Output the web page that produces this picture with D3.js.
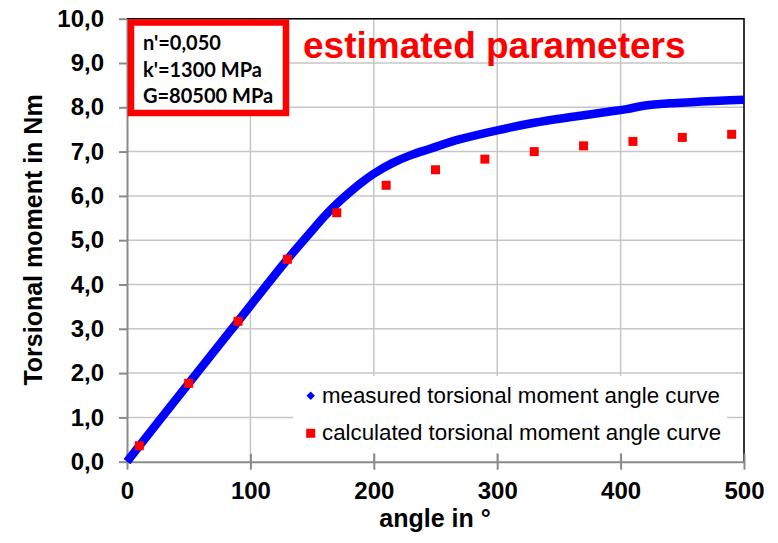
<!DOCTYPE html>
<html>
<head>
<meta charset="utf-8">
<script src="https://cdn.jsdelivr.net/npm/d3@7"></script>
<style>
    body { margin: 0; background: #fff; }
    svg { display: block; font-family: "Liberation Sans", Arial, sans-serif; }
    .grid line { stroke: #c6c6c6; stroke-width: 1.5; }
    .axis path, .axis line { stroke: #8a8a8a; stroke-width: 2; }
    .axis text { font-size: 24px; font-weight: bold; fill: #000; }
    .title { font-size: 25px; font-weight: bold; }
    .legend-text { font-size: 22.3px; }
</style>
</head>
<body>
<svg width="778" height="543"></svg>
<script>
// Measured curve (angle in deg, moment in Nm)
var measAngle  = [0, 50, 90, 130, 150, 160, 170, 180, 190, 200, 215, 230, 245, 270, 300, 330, 360, 390, 405, 420, 440, 460, 480, 500];
var measMoment = [0, 1.77, 3.17, 4.57, 5.22, 5.54, 5.82, 6.07, 6.30, 6.50, 6.74, 6.92, 7.06, 7.28, 7.48, 7.65, 7.78, 7.90, 7.96, 8.04, 8.09, 8.12, 8.15, 8.17];

// Calculated points
var calcAngle  = [10, 50, 90, 130, 170, 210, 250, 290, 330, 370, 410, 450, 490];
var calcMoment = [0.36, 1.77, 3.17, 4.57, 5.62, 6.24, 6.59, 6.83, 7.00, 7.13, 7.23, 7.32, 7.39];

var xTicks = [0, 100, 200, 300, 400, 500];
var yTicks = [0, 1, 2, 3, 4, 5, 6, 7, 8, 9, 10];

var paramLines = ["n'=0,050", "k'=1300 MPa", "G=80500 MPa"];
var legendLabels = ["measured torsional moment angle curve", "calculated torsional moment angle curve"];

var svg = d3.select("svg");
var plotL = 127, plotR = 744, plotT = 18.7, plotB = 461.7;

var x = d3.scaleLinear().domain([0, 500]).range([plotL, plotR]);
var y = d3.scaleLinear().domain([0, 10]).range([plotB, plotT]);
var fmt = function (d) { return d.toFixed(1).replace(".", ","); };

// Gridlines
var grid = svg.append("g").attr("class", "grid");
grid.selectAll(".gy").data(yTicks.slice(1)).enter().append("line")
    .attr("x1", plotL).attr("x2", plotR)
    .attr("y1", d => y(d)).attr("y2", d => y(d));
grid.selectAll(".gx").data(xTicks.slice(1)).enter().append("line")
    .attr("x1", d => x(d)).attr("x2", d => x(d))
    .attr("y1", plotT).attr("y2", plotB);

// Top and right border
svg.append("path")
    .attr("d", "M" + plotL + "," + plotT + "H" + plotR + "V" + plotB)
    .attr("fill", "none").attr("stroke", "#000").attr("stroke-width", 1.5);

// Axes
svg.append("g").attr("class", "axis")
    .attr("transform", "translate(0," + plotB + ")")
    .call(d3.axisBottom(x).tickValues(xTicks).tickSize(8).tickSizeOuter(0).tickPadding(12))
    .call(g => g.selectAll(".tick line").attr("y1", -8))
    .call(g => g.selectAll(".tick text").attr("dy", "0.71em"));

svg.append("g").attr("class", "axis")
    .attr("transform", "translate(" + plotL + ",0)")
    .call(d3.axisLeft(y).tickValues(yTicks).tickFormat(fmt).tickSize(8).tickSizeOuter(0).tickPadding(15));

// Measured curve (dense markers -> thick line)
var meas = measAngle.map((a, i) => [a, measMoment[i]]);
svg.append("path")
    .datum(meas)
    .attr("fill", "none")
    .attr("stroke", "#0000ff")
    .attr("stroke-width", 8.5)
    .attr("stroke-linejoin", "round")
    .attr("d", d3.line().x(d => x(d[0])).y(d => y(d[1])).curve(d3.curveCatmullRom));

// Calculated points
var calc = calcAngle.map((a, i) => [a, calcMoment[i]]);
svg.selectAll(".calc").data(calc).enter().append("rect")
    .attr("x", d => x(d[0]) - 4.5)
    .attr("y", d => y(d[1]) - 4.5)
    .attr("width", 9).attr("height", 9)
    .attr("fill", "#ff0000");

// Legend
var lg = svg.append("g");
lg.append("rect")
    .attr("x", 293).attr("y", 376).attr("width", 434).attr("height", 77)
    .attr("fill", "#fff");
lg.append("path")
    .attr("d", d3.symbol().type(d3.symbolSquare).size(36))
    .attr("transform", "translate(310.7,395.7) rotate(45)")
    .attr("fill", "#0000ff");
lg.append("rect")
    .attr("x", 306.2).attr("y", 428.8).attr("width", 9).attr("height", 9)
    .attr("fill", "#ff0000");
lg.selectAll(".legend-text").data(legendLabels).enter().append("text")
    .attr("class", "legend-text")
    .attr("x", 322)
    .attr("y", (d, i) => 403.3 + i * 36.7)
    .text(d => d);

// Parameter box
svg.append("rect")
    .attr("x", 131).attr("y", 22.5).attr("width", 155).attr("height", 90.5)
    .attr("fill", "#fff").attr("stroke", "#ff0000").attr("stroke-width", 6.5);
svg.selectAll(".param").data(paramLines).enter().append("text")
    .attr("x", 143)
    .attr("y", (d, i) => 50 + i * 26.7)
    .attr("font-family", "Lato, 'Open Sans', sans-serif")
    .attr("font-weight", "bold")
    .attr("font-size", "20px")
    .text(d => d);

svg.append("text")
    .attr("x", 303).attr("y", 58.3)
    .attr("fill", "#ff0000")
    .attr("font-weight", "bold")
    .attr("font-size", "37px")
    .text("estimated parameters");

// Axis titles
svg.append("text").attr("class", "title")
    .attr("x", 435).attr("y", 526.7)
    .attr("text-anchor", "middle")
    .text("angle in °");
svg.append("text").attr("class", "title")
    .attr("transform", "translate(42,240) rotate(-90)")
    .attr("text-anchor", "middle")
    .text("Torsional moment in Nm");
</script>
</body>
</html>
